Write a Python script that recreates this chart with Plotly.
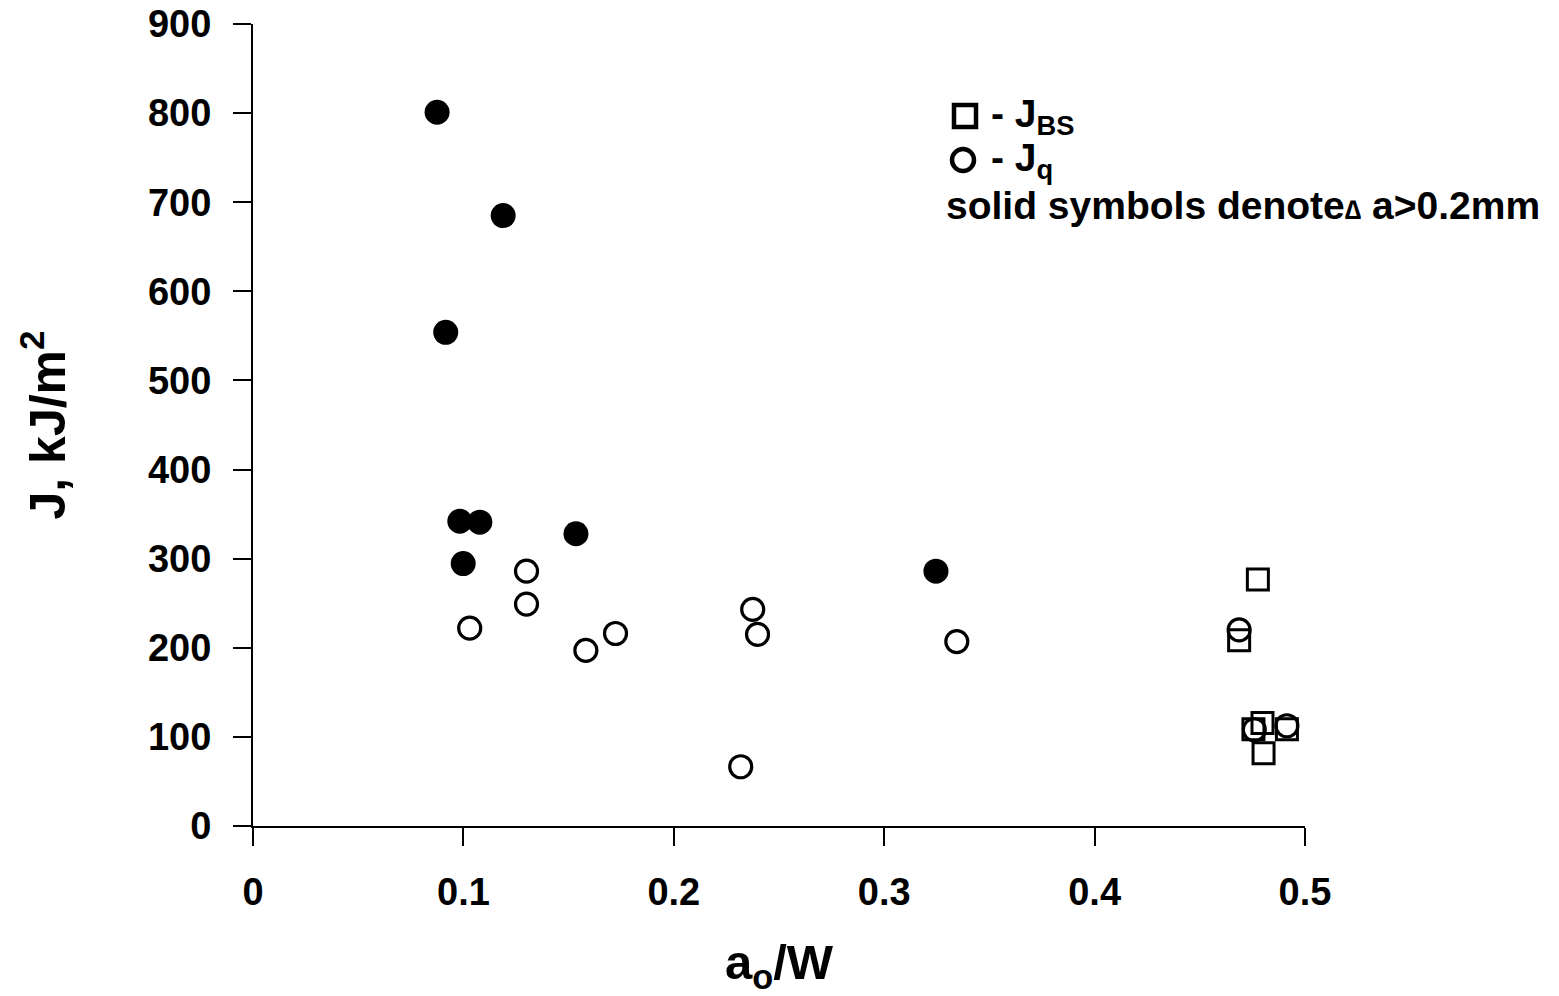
import plotly.graph_objects as go

# J_q, solid symbols (delta a > 0.2 mm)
jq_solid_x = [0.0875, 0.1189, 0.0916, 0.0983, 0.1078, 0.1535, 0.0999, 0.3246]
jq_solid_y = [801, 685, 554, 342, 341, 328, 294.5, 286]

# J_q, open symbols
jq_open_x = [0.130, 0.130, 0.103, 0.1723, 0.1582, 0.2375, 0.2398, 0.2318, 0.3345, 0.4687, 0.4759, 0.4914]
jq_open_y = [286, 249, 222, 216, 197, 243, 215, 66.5, 207, 220, 108, 112.5]

# J_BS, open squares
jbs_x = [0.4776, 0.4687, 0.4755, 0.4798, 0.4803, 0.4914]
jbs_y = [276.6, 208.5, 108.7, 115.5, 81.5, 108.7]

x_ticks = [0, 0.1, 0.2, 0.3, 0.4, 0.5]
x_ticklabels = ["0", "0.1", "0.2", "0.3", "0.4", "0.5"]
y_ticks = [0, 100, 200, 300, 400, 500, 600, 700, 800, 900]

FONT = "Liberation Sans, Arial, sans-serif"
W, H = 1559, 996
ML, MR, MT, MB = 253, 254, 24, 170

fig = go.Figure()
fig.add_trace(go.Scatter(x=jbs_x, y=jbs_y, mode="markers", name="J_BS",
                         marker=dict(symbol="square-open", size=21, color="black",
                                     line=dict(width=3, color="black"))))
fig.add_trace(go.Scatter(x=jq_open_x, y=jq_open_y, mode="markers", name="J_q",
                         marker=dict(symbol="circle-open", size=22, color="black",
                                     line=dict(width=3.2, color="black"))))
fig.add_trace(go.Scatter(x=jq_solid_x, y=jq_solid_y, mode="markers", name="J_q solid",
                         marker=dict(symbol="circle", size=25, color="black",
                                     line=dict(width=0))))

axis_common = dict(showline=True, linecolor="black", linewidth=2, ticks="outside",
                   ticklen=18, tickwidth=2, tickcolor="black", showgrid=False,
                   zeroline=False, automargin=False,
                   tickfont=dict(family=FONT, size=38, color="black", weight="bold"))

fig.update_layout(
    width=W, height=H,
    margin=dict(l=ML, r=MR, t=MT, b=MB),
    paper_bgcolor="white", plot_bgcolor="white",
    showlegend=False,
    font=dict(family=FONT, color="black", weight="bold"),
    xaxis=dict(range=[0, 0.5], tickvals=x_ticks, ticktext=x_ticklabels,
               ticklabelstandoff=13,
               title=dict(text="a<sub>o</sub>/W", standoff=34,
                          font=dict(family=FONT, size=49, color="black", weight="bold")),
               **axis_common),
    yaxis=dict(range=[0, 900], tickvals=y_ticks, ticklabelstandoff=14,
               title=dict(text="J, kJ/m<sup>2</sup>", standoff=66,
                          font=dict(family=FONT, size=50, color="black", weight="bold")),
               **axis_common),
)

def px_x(p):
    return (p - ML) / (W - ML - MR)

def px_y(p):
    return 1 - (p - MT) / (H - MT - MB)

# legend symbols
fig.add_shape(type="rect", xref="paper", yref="paper",
              x0=px_x(954), x1=px_x(976), y0=px_y(127), y1=px_y(105),
              line=dict(color="black", width=4.5), fillcolor="rgba(0,0,0,0)")
fig.add_shape(type="circle", xref="paper", yref="paper",
              x0=px_x(952), x1=px_x(974), y0=px_y(171), y1=px_y(149),
              line=dict(color="black", width=4.5), fillcolor="rgba(0,0,0,0)")

leg_font = dict(family=FONT, size=39, color="black", weight="bold")
fig.add_annotation(xref="paper", yref="paper", x=px_x(989), y=px_y(117),
                   xanchor="left", yanchor="middle", showarrow=False,
                   text="- J<sub>BS</sub>", font=leg_font)
fig.add_annotation(xref="paper", yref="paper", x=px_x(989), y=px_y(161),
                   xanchor="left", yanchor="middle", showarrow=False,
                   text="- J<sub>q</sub>", font=leg_font)
fig.add_annotation(xref="paper", yref="paper", x=px_x(944), y=px_y(206),
                   xanchor="left", yanchor="middle", showarrow=False,
                   text="solid symbols denote<span style=\"font-size:27px\">\u2206</span> a>0.2mm",
                   font=leg_font)

fig.write_html("out.html")
